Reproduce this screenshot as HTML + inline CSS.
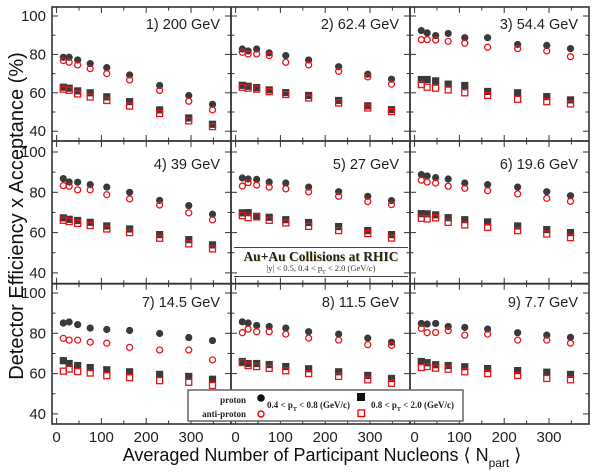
<!DOCTYPE html>
<html><head><meta charset="utf-8"><style>
html,body{margin:0;padding:0;background:#fff;}
svg{display:block;font-family:"Liberation Sans",sans-serif;}
</style></head><body>
<svg id="chart" width="600" height="473" viewBox="0 0 600 473" xmlns="http://www.w3.org/2000/svg">
<g id="marks"></g>
<text x="0" y="0" transform="translate(23,216) rotate(-90)" text-anchor="middle" font-size="20" fill="#111">Detector Efficiency x Acceptance (%)</text>
<text x="322" y="461" text-anchor="middle" font-size="18" fill="#111">Averaged Number of Participant Nucleons ⟨ N<tspan font-size="12" dy="6">part</tspan><tspan dy="-6"> ⟩</tspan></text>
<g>
<line x1="234" y1="247.5" x2="408" y2="247.5" stroke="#444" stroke-width="1"/>
<text x="321" y="261" text-anchor="middle" font-family="Liberation Serif,serif" font-weight="bold" font-size="13.5" fill="#e8e29a" transform="translate(0.8,0.8)">Au+Au Collisions at RHIC</text>
<text x="321" y="261" text-anchor="middle" font-family="Liberation Serif,serif" font-weight="bold" font-size="13.5" fill="#222">Au+Au Collisions at RHIC</text>
<text x="321" y="271" text-anchor="middle" font-family="Liberation Serif,serif" font-size="8.5" fill="#333">|y| &lt; 0.5,  0.4 &lt; p<tspan font-size="6" dy="3">T</tspan><tspan dy="-3"> &lt; 2.0 (GeV/</tspan><tspan font-style="italic">c</tspan>)</text>
<line x1="234" y1="276.5" x2="408" y2="276.5" stroke="#444" stroke-width="1"/>
</g>
<g font-family="Liberation Serif,serif" font-weight="bold" fill="#222">
<rect x="188" y="390" width="275" height="31" fill="#fff" stroke="#666" stroke-width="1.5"/>
<text x="246" y="403" text-anchor="end" font-size="9">proton</text>
<text x="246" y="417" text-anchor="end" font-size="9">anti-proton</text>
<circle cx="261" cy="398" r="3.8" fill="#111"/>
<circle cx="261" cy="414" r="3" fill="none" stroke="#e00" stroke-width="1.4"/>
<text x="267" y="408" font-size="9">0.4 &lt; p<tspan font-size="6" dy="3">T</tspan><tspan dy="-3"> &lt; 0.8 (GeV/c)</tspan></text>
<rect x="357" y="393" width="8" height="8" fill="#111"/>
<rect x="358" y="410" width="6.5" height="6.5" fill="none" stroke="#e00" stroke-width="1.3"/>
<text x="371" y="408" font-size="9">0.8 &lt; p<tspan font-size="6" dy="3">T</tspan><tspan dy="-3"> &lt; 2.0 (GeV/c)</tspan></text>
</g>
</svg>
<script>
const npart = [15, 28, 47, 75, 112, 163, 230, 295, 348];
const panelLabels = ["1) 200 GeV","2) 62.4 GeV","3) 54.4 GeV","4) 39 GeV","5) 27 GeV","6) 19.6 GeV","7) 14.5 GeV","8) 11.5 GeV","9) 7.7 GeV"];
const protonLow = [
 [78.5,78.5,77.1,75.2,73.1,69.3,63.8,58.6,54.0],
 [82.8,81.8,82.8,80.8,79.4,77.1,73.6,69.7,67.1],
 [92.4,91.2,89.8,90.9,88.7,88.7,85.2,84.7,83.0],
 [86.8,85.1,85.0,83.8,82.6,80.0,76.0,73.4,69.1],
 [87.1,86.6,86.4,85.1,84.6,82.6,80.3,78.0,75.9],
 [88.8,88.1,87.3,86.6,84.6,83.8,82.6,80.3,78.3],
 [85.1,85.6,84.3,82.6,81.9,81.4,79.9,77.9,76.4],
 [85.7,85.1,83.9,83.4,82.6,80.8,79.6,77.6,75.6],
 [84.9,84.6,84.9,83.4,82.9,82.1,80.3,79.1,78.0]];
const antiLow = [
 [76.8,75.9,74.5,72.6,70.0,66.7,61.2,55.6,51.1],
 [81.1,80.2,80.2,79.4,75.9,74.5,71.2,68.3,64.5],
 [87.7,87.7,87.5,86.8,85.8,83.7,83.0,81.8,78.8],
 [83.3,83.0,81.2,81.2,78.8,76.7,73.7,69.8,66.3],
 [83.1,84.8,83.6,82.6,81.7,80.2,78.0,75.4,73.9],
 [86.0,85.1,84.6,83.0,82.0,80.8,79.2,77.0,75.5],
 [77.5,76.6,76.6,75.6,75.1,73.0,71.7,71.7,66.8],
 [80.3,82.1,80.8,80.8,79.6,77.6,76.6,74.3,74.0],
 [82.4,80.3,80.4,81.3,79.1,79.6,76.6,76.6,75.1]];
const protonHigh = [
 [62.9,62.4,61.0,60.0,57.9,55.4,51.1,46.9,43.6],
 [63.9,63.4,62.7,61.5,60.1,58.6,56.0,53.2,51.2],
 [66.9,66.9,66.2,64.5,63.8,60.7,60.0,58.0,56.3],
 [67.3,66.6,66.0,65.1,63.3,61.8,59.0,56.5,53.9],
 [69.8,69.9,68.1,67.6,66.4,65.0,63.0,61.0,59.0],
 [69.4,69.3,68.8,67.4,66.4,65.3,63.3,61.5,60.0],
 [66.4,65.0,64.0,63.0,61.9,60.9,59.6,58.6,57.2],
 [66.0,65.0,65.0,64.5,63.5,62.4,60.9,59.1,57.6],
 [66.0,65.4,64.4,64.0,63.4,62.5,61.5,60.7,59.6]];
const antiHigh = [
 [61.9,61.3,59.4,57.8,56.0,53.1,49.2,45.4,42.4],
 [62.9,62.4,61.9,60.6,59.1,57.3,54.7,52.1,50.2],
 [64.3,62.9,62.4,61.5,60.0,58.6,56.6,55.4,54.2],
 [66.1,65.5,64.6,63.5,61.8,60.0,57.2,54.4,51.9],
 [68.4,67.4,67.8,66.1,64.8,63.1,61.0,59.5,57.3],
 [67.1,66.8,67.3,65.1,63.8,62.6,61.0,59.3,57.5],
 [61.2,62.3,61.0,60.3,59.0,58.0,56.5,55.7,54.1],
 [65.5,64.0,63.5,62.6,61.4,60.0,58.6,56.9,55.2],
 [63.0,63.5,62.7,62.2,60.9,60.0,59.1,57.6,56.9]];
const xTicks = [0,100,200,300];
const yTicks = [40,60,80,100];

const NS="http://www.w3.org/2000/svg";
const g=document.getElementById('marks');
const colLeft=[52,231,410], colW=179;
const rowTop=[7,141,283.7], rowBot=[141,283.7,424];
const rowY100=[16,152,293], rowK=[1.92,2.015,2.015];
const xK=0.448, xOff=4.6;
function xScale(c,v){return colLeft[c]+xOff+v*xK;}
function yScale(r,v){return rowY100[r]+(100-v)*rowK[r];}
function el(tag,attrs,parent){const e=document.createElementNS(NS,tag);for(const k in attrs)e.setAttribute(k,attrs[k]);(parent||g).appendChild(e);return e;}

for(let p=0;p<9;p++){
  const r=Math.floor(p/3), c=p%3;
  const pg=el('g',{});
  
  
  const L=colLeft[c], R=L+colW, T=rowTop[r], B=rowBot[r];
  for(let v=0;v<=380;v+=50){
    const x=xScale(c,v); if(x>R-1) continue;
    const len=(v%100===0)?6:3.5;
    el('line',{x1:x,y1:B,x2:x,y2:B-len,stroke:'#333','stroke-width':1},pg);
    el('line',{x1:x,y1:T,x2:x,y2:T+len,stroke:'#333','stroke-width':1},pg);
  }
  for(let v=30;v<=110;v+=10){
    const y=yScale(r,v); if(y<T+1||y>B-1) continue;
    const len=(v%20===0)?6:3.5;
    el('line',{x1:L,y1:y,x2:L+len,y2:y,stroke:'#333','stroke-width':1},pg);
    el('line',{x1:R,y1:y,x2:R-len,y2:y,stroke:'#333','stroke-width':1},pg);
  }
  if(c===0){
    yTicks.forEach(v=>{
      const t=el('text',{x:46,y:yScale(r,v)+5,'text-anchor':'end','font-size':15,fill:'#222'},pg);
      t.textContent=v;
      
      
    });
  }
  if(r===2){
    xTicks.forEach(v=>{
      const t=el('text',{x:xScale(c,v),y:442,'text-anchor':'middle','font-size':15,fill:'#222'},pg);
      t.textContent=v;
      
      
    });
  }
  const lab=el('text',{x:L+168,y:T+(r===0?22:r===1?28:23.5),'text-anchor':'end','font-size':14.5,fill:'#222'},pg);
  lab.textContent=panelLabels[p];
  
  
  for(let i=0;i<npart.length;i++){
    const x=xScale(c,npart[i]);
    const a=el('circle',{cx:x,cy:yScale(r,protonLow[p][i]),r:3.6,fill:'#3a3a3a'},pg);
    
    
    const b=el('rect',{x:x-3.6,y:yScale(r,protonHigh[p][i])-3.6,width:7.2,height:7.2,fill:'#3a3a3a'},pg);
    
    
  }
  for(let i=0;i<npart.length;i++){
    const x=xScale(c,npart[i]);
    const a=el('circle',{cx:x,cy:yScale(r,antiLow[p][i]),r:3,fill:'none',stroke:'#e8141a','stroke-width':1.3},pg);
    
    
    const b=el('rect',{x:x-3,y:yScale(r,antiHigh[p][i])-3,width:6,height:6,fill:'none',stroke:'#e8141a','stroke-width':1.3},pg);
    
    
  }
}
const fr=el('rect',{x:52,y:7,width:537,height:417,fill:'none',stroke:'#333','stroke-width':1.6});


[231,410].forEach(x=>{const l=el('line',{x1:x,y1:7,x2:x,y2:424,stroke:'#333','stroke-width':1.8});

});
[141,283.7].forEach(y=>{const l=el('line',{x1:52,y1:y,x2:589,y2:y,stroke:'#333','stroke-width':1.8});

});
</script>
</body></html>
